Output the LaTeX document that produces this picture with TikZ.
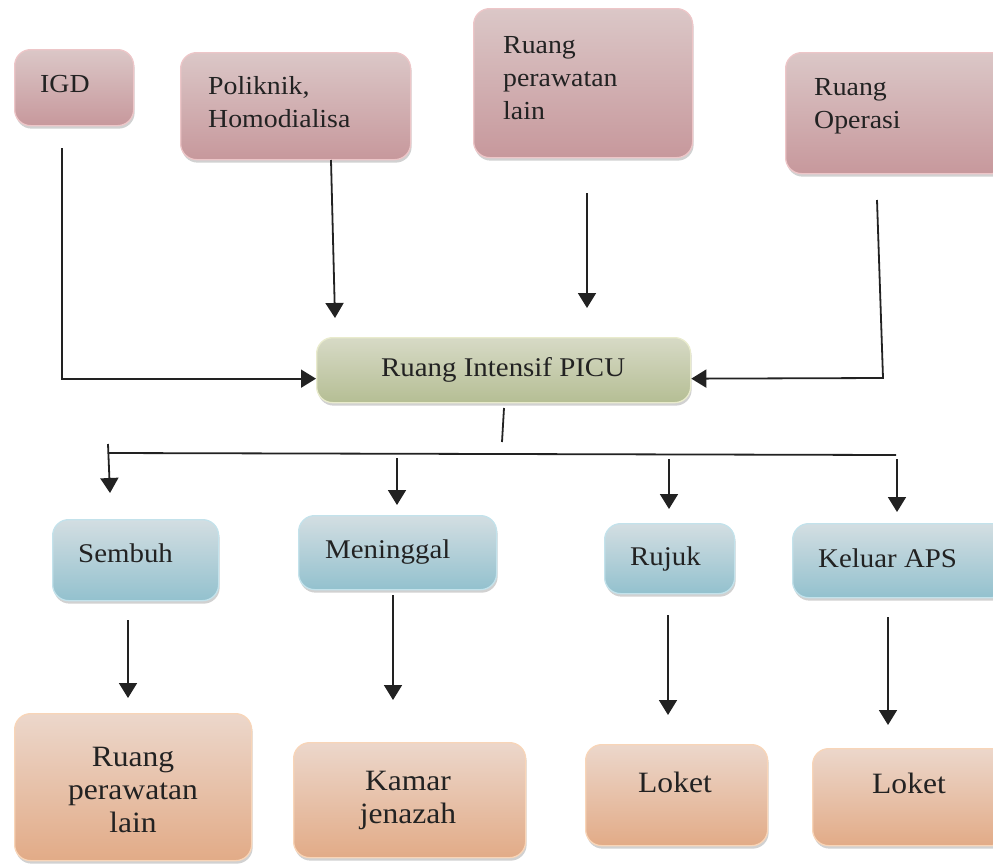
\documentclass[tikz,border=0pt]{standalone}
\usepackage{fontspec}
\setmainfont{Liberation Serif}[FakeStretch=1.07]
\usetikzlibrary{arrows.meta,shadows}
\definecolor{pinkT}{HTML}{DBC7C7}
\definecolor{pinkB}{HTML}{C7989C}
\definecolor{pinkL}{HTML}{EDC6C8}
\definecolor{greenT}{HTML}{D7DAC6}
\definecolor{greenB}{HTML}{B5BE94}
\definecolor{greenL}{HTML}{E9EBCD}
\definecolor{blueT}{HTML}{D3DEE2}
\definecolor{blueB}{HTML}{93C1CE}
\definecolor{blueL}{HTML}{C3E2EB}
\definecolor{orT}{HTML}{ECD7CB}
\definecolor{orB}{HTML}{E2AB87}
\definecolor{orL}{HTML}{F8D5B8}
\definecolor{ink}{HTML}{222222}
\tikzset{
  box/.style={rectangle, rounded corners=16pt, line width=1.3pt, inner sep=0pt, anchor=north west,
    drop shadow={shadow xshift=1pt, shadow yshift=-3pt, opacity=0.3, fill=black!60}},
  pinkbox/.style={box, top color=pinkT, bottom color=pinkB, draw=pinkL},
  greenbox/.style={box, top color=greenT, bottom color=greenB, draw=greenL},
  bluebox/.style={box, top color=blueT, bottom color=blueB, draw=blueL},
  orbox/.style={box, top color=orT, bottom color=orB, draw=orL},
  lbl/.style={inner sep=0pt, text=ink},
  ftop/.style={font=\fontsize{26}{33}\selectfont, align=left},
  fmid/.style={font=\fontsize{27}{33}\selectfont, align=left},
  fbot/.style={font=\fontsize{29.5}{33}\selectfont, align=center},
  conn/.style={line width=1.8pt, draw=ink},
  arr/.style={conn, -{Triangle[width=18pt,length=15pt]}},
}
\begin{document}
\begin{tikzpicture}[x=1pt,y=-1pt]
\useasboundingbox (0,0) rectangle (993,863);
% top row
\node[pinkbox, minimum width=119pt, minimum height=76pt] (igd) at (14,49) {};
\node[lbl, ftop, anchor=base west] (igdt) at (40,92) {IGD};
\node[pinkbox, minimum width=230pt, minimum height=107pt] (poli) at (180,52) {};
\node[lbl, ftop, anchor=base west] (polit) at (208,127) {Poliknik,\\Homodialisa};
\node[pinkbox, minimum width=219pt, minimum height=149pt] (rpl) at (473,8) {};
\node[lbl, ftop, anchor=base west] (rplt) at (503,119) {Ruang\\perawatan\\lain};
\node[pinkbox, minimum width=222pt, minimum height=121pt] (ops) at (785,52) {};
\node[lbl, ftop, anchor=base west] (opst) at (814,128) {Ruang\\Operasi};
% center
\node[greenbox, minimum width=374pt, minimum height=65pt] (picu) at (316,337) {};
\node[lbl, fmid, anchor=base west] (picut) at (381,376) {Ruang Intensif PICU};
% middle row
\node[bluebox, minimum width=166pt, minimum height=81pt] (sembuh) at (52,519) {};
\node[lbl, fmid, anchor=base west] (sembuht) at (78,562) {Sembuh};
\node[bluebox, minimum width=198pt, minimum height=74pt] (menin) at (298,515) {};
\node[lbl, fmid, anchor=base west] (menint) at (325,558) {Meninggal};
\node[bluebox, minimum width=130pt, minimum height=70pt] (rujuk) at (604,523) {};
\node[lbl, fmid, anchor=base west] (rujukt) at (630,565) {Rujuk};
\node[bluebox, minimum width=215pt, minimum height=74pt] (keluar) at (792,523) {};
\node[lbl, fmid, anchor=base west] (keluart) at (818,567) {Keluar APS};
% bottom row
\node[orbox, minimum width=237pt, minimum height=147pt] (rpl2) at (14,713) {};
\node[lbl, fbot, anchor=base] (rpl2t) at (133,832) {Ruang\\perawatan\\lain};
\node[orbox, minimum width=232pt, minimum height=115pt] (kamar) at (293,742) {};
\node[lbl, fbot, anchor=base] (kamart) at (408,823) {Kamar\\jenazah};
\node[orbox, minimum width=182pt, minimum height=101pt] (loket1) at (585,744) {};
\node[lbl, fbot, anchor=base] (loket1t) at (675,792) {Loket};
\node[orbox, minimum width=195pt, minimum height=97pt] (loket2) at (812,748) {};
\node[lbl, fbot, anchor=base] (loket2t) at (909,793) {Loket};
% connector end points
\coordinate (igdA) at (62,148);
\coordinate (poliA) at (331,160);
\coordinate (poliB) at (335,318);
\coordinate (rplA) at (587,193);
\coordinate (rplB) at (587,308);
\coordinate (opsA) at (877,200);
\coordinate (opsC) at (883,378);
\coordinate (picuA) at (504,408);
\coordinate (picuB) at (502,442);
\coordinate (busL) at (108,453);
\coordinate (busR) at (896,455);
\coordinate (tickT) at (108,444);
\coordinate (sembuhB) at (110,493);
\coordinate (meninA) at (397,458);
\coordinate (meninB) at (397,505);
\coordinate (rujukA) at (669,459);
\coordinate (rujukB) at (669,509);
\coordinate (keluarA) at (897,459);
\coordinate (keluarB) at (897,512);
\coordinate (s2A) at (128,620);
\coordinate (s2B) at (128,698);
\coordinate (m2A) at (393,595);
\coordinate (m2B) at (393,700);
\coordinate (r2A) at (668,615);
\coordinate (r2B) at (668,715);
\coordinate (k2A) at (888,617);
\coordinate (k2B) at (888,725);
% inflow
\draw[arr] (igdA) |- ([yshift=-8.5pt]picu.west);
\draw[arr] (poliA) -- (poliB);
\draw[arr] (rplA) -- (rplB);
\draw[arr] (opsA) -- (opsC) -- ([yshift=-8.5pt]picu.east);
% outflow
\draw[conn] (picuA) -- (picuB);
\draw[conn] (busL) -- (busR);
\draw[arr] (tickT) -- (sembuhB);
\draw[arr] (meninA) -- (meninB);
\draw[arr] (rujukA) -- (rujukB);
\draw[arr] (keluarA) -- (keluarB);
\draw[arr] (s2A) -- (s2B);
\draw[arr] (m2A) -- (m2B);
\draw[arr] (r2A) -- (r2B);
\draw[arr] (k2A) -- (k2B);
\end{tikzpicture}
\end{document}
